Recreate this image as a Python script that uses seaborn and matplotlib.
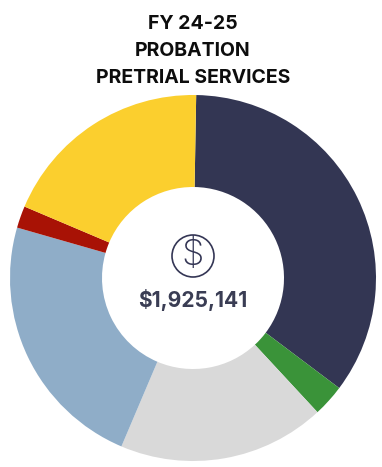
import matplotlib
matplotlib.use("Agg")
import matplotlib.pyplot as plt
from matplotlib.patches import Circle
import seaborn as sns

sns.set_theme(style="white")
plt.rcParams['font.family'] = ['Inter', 'DejaVu Sans']

shares = [35.0, 2.83, 18.3, 23.05, 1.94, 18.9]
colors = ["#333653", "#3a9339", "#d9d9d9", "#8fadc8", "#a81205", "#fbcf2e"]
title_lines = ["FY 24-25", "PROBATION", "PRETRIAL SERVICES"]
total_label = "$1,925,141"

W, H = 382, 467
fig = plt.figure(figsize=(W/100, H/100), dpi=100, facecolor="white")
ax = fig.add_axes([0, 0, 1, 1])

cx, cy, R = 193, H-278, 183
ax.pie(shares, colors=colors, startangle=89, counterclock=False,
       center=(cx, cy), radius=R, frame=True,
       wedgeprops=dict(width=R-91, linewidth=0))
ax.set_xlim(0, W)
ax.set_ylim(0, H)
ax.set_aspect("equal")
ax.axis("off")

for y, line in zip([24, 51, 78], title_lines):
    ax.text(193, H-y, line, ha="center", va="center", fontsize=14,
            fontweight="bold", color="#0d0d0d")

ax.add_patch(Circle((193, H-256), 21, fill=False, ec="#343655", lw=1.2))
ax.text(193, H-256, "$", ha="center", va="center", fontsize=26,
        fontweight="light", color="#343655")
ax.text(193, H-300, total_label, ha="center", va="center", fontsize=15.1,
        fontweight="bold", color="#3a3d54")

fig.savefig("out.png", dpi=100, facecolor="white")
